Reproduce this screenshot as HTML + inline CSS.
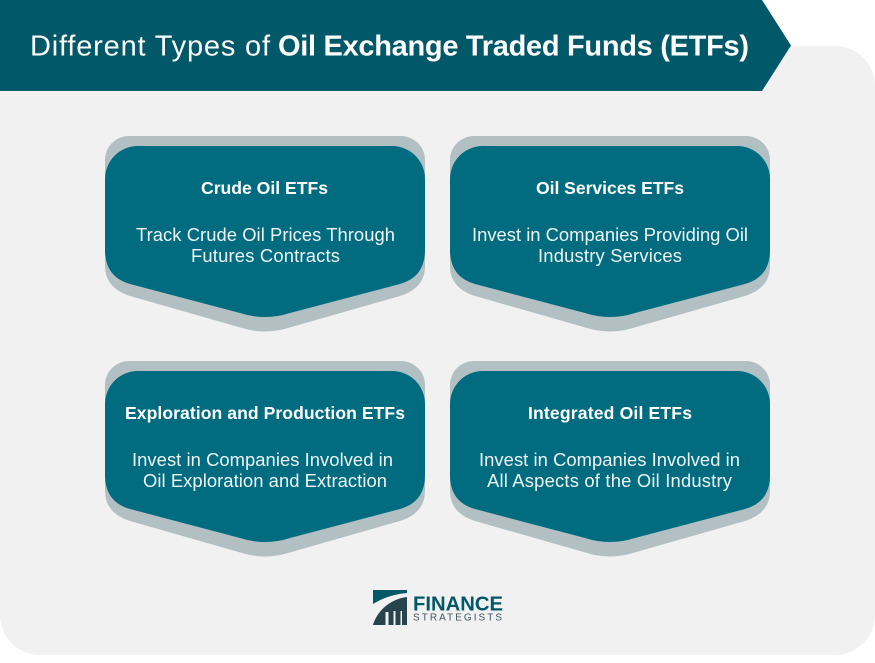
<!DOCTYPE html>
<html lang="en">
<head>
<meta charset="utf-8">
<title>Different Types of Oil Exchange Traded Funds (ETFs)</title>
<style>
html,body{margin:0;padding:0;background:#fff;width:875px;height:663px;overflow:hidden}
svg{display:block}
text{font-family:"Liberation Sans",sans-serif}
.t{font-weight:700;font-size:17.6px;fill:#fff;text-anchor:start}
.d{font-size:18.4px;fill:#eef5f6;text-anchor:start}
</style>
</head>
<body>
<svg width="875" height="663" viewBox="0 0 875 663" xmlns="http://www.w3.org/2000/svg">
  <defs>
    <path id="shadow-shape" d="M105,160 A24,24 0 0 1 129,136 H401 A24,24 0 0 1 425,160 V266 Q425,288 400,296 L288,328 Q265,335 242,328 L130,296 Q105,288 105,266 Z"/>
    <path id="main-shape" d="M105,179 A33,33 0 0 1 138,146 H392 A33,33 0 0 1 425,179 V250 Q425,277 400,284 L290,313 Q265,321 240,313 L130,284 Q105,277 105,250 Z"/>
  </defs>

  <rect x="0" y="46" width="875" height="609" rx="40" ry="40" fill="#f1f1f1"/>

  <polygon points="0,0 762,0 791,45.5 762,91 0,91" fill="#015868"/>
  <text x="30" y="55.5" font-size="29" fill="#fff" textLength="240" lengthAdjust="spacing">Different Types of</text>
  <text x="278" y="55.5" font-size="29" font-weight="700" fill="#fff" textLength="471" lengthAdjust="spacing">Oil Exchange Traded Funds (ETFs)</text>

  <g>
    <use href="#shadow-shape" fill="#b2c0c3"/>
    <use href="#main-shape" fill="#016c80"/>
    <text class="t" x="201" y="194" textLength="127" lengthAdjust="spacing">Crude Oil ETFs</text>
    <text class="d" x="136" y="241" textLength="259" lengthAdjust="spacing">Track Crude Oil Prices Through</text>
    <text class="d" x="191" y="262" textLength="149" lengthAdjust="spacing">Futures Contracts</text>
  </g>

  <g>
    <use href="#shadow-shape" x="345" fill="#b2c0c3"/>
    <use href="#main-shape" x="345" fill="#016c80"/>
    <text class="t" x="536" y="194" textLength="148" lengthAdjust="spacing">Oil Services ETFs</text>
    <text class="d" x="472" y="241" textLength="276" lengthAdjust="spacing">Invest in Companies Providing Oil</text>
    <text class="d" x="538" y="262" textLength="144" lengthAdjust="spacing">Industry Services</text>
  </g>

  <g>
    <use href="#shadow-shape" y="225" fill="#b2c0c3"/>
    <use href="#main-shape" y="225" fill="#016c80"/>
    <text class="t" x="125" y="419" textLength="280" lengthAdjust="spacing">Exploration and Production ETFs</text>
    <text class="d" x="132" y="466" textLength="261" lengthAdjust="spacing">Invest in Companies Involved in</text>
    <text class="d" x="143" y="487" textLength="244" lengthAdjust="spacing">Oil Exploration and Extraction</text>
  </g>

  <g>
    <use href="#shadow-shape" x="345" y="225" fill="#b2c0c3"/>
    <use href="#main-shape" x="345" y="225" fill="#016c80"/>
    <text class="t" x="528" y="419" textLength="164" lengthAdjust="spacing">Integrated Oil ETFs</text>
    <text class="d" x="479" y="466" textLength="261" lengthAdjust="spacing">Invest in Companies Involved in</text>
    <text class="d" x="487" y="487" textLength="245" lengthAdjust="spacing">All Aspects of the Oil Industry</text>
  </g>

  <g>
    <path d="M373,590 H407 V593 C393,594 381,599 373,604 Z" fill="#015868"/>
    <path d="M373,625 C377,611 390,599 407,597 V625 H402 V611 H400.5 V625 H395.5 V611 H393.5 V625 H388.5 V612 H385.5 V625 Z" fill="#27444c"/>
    <text x="413" y="610.5" font-size="20" font-weight="700" fill="#015868" textLength="90" lengthAdjust="spacingAndGlyphs">FINANCE</text>
    <text x="413" y="620.5" font-size="10" fill="#3f555c" textLength="89" lengthAdjust="spacing">STRATEGISTS</text>
  </g>
</svg>
</body>
</html>
